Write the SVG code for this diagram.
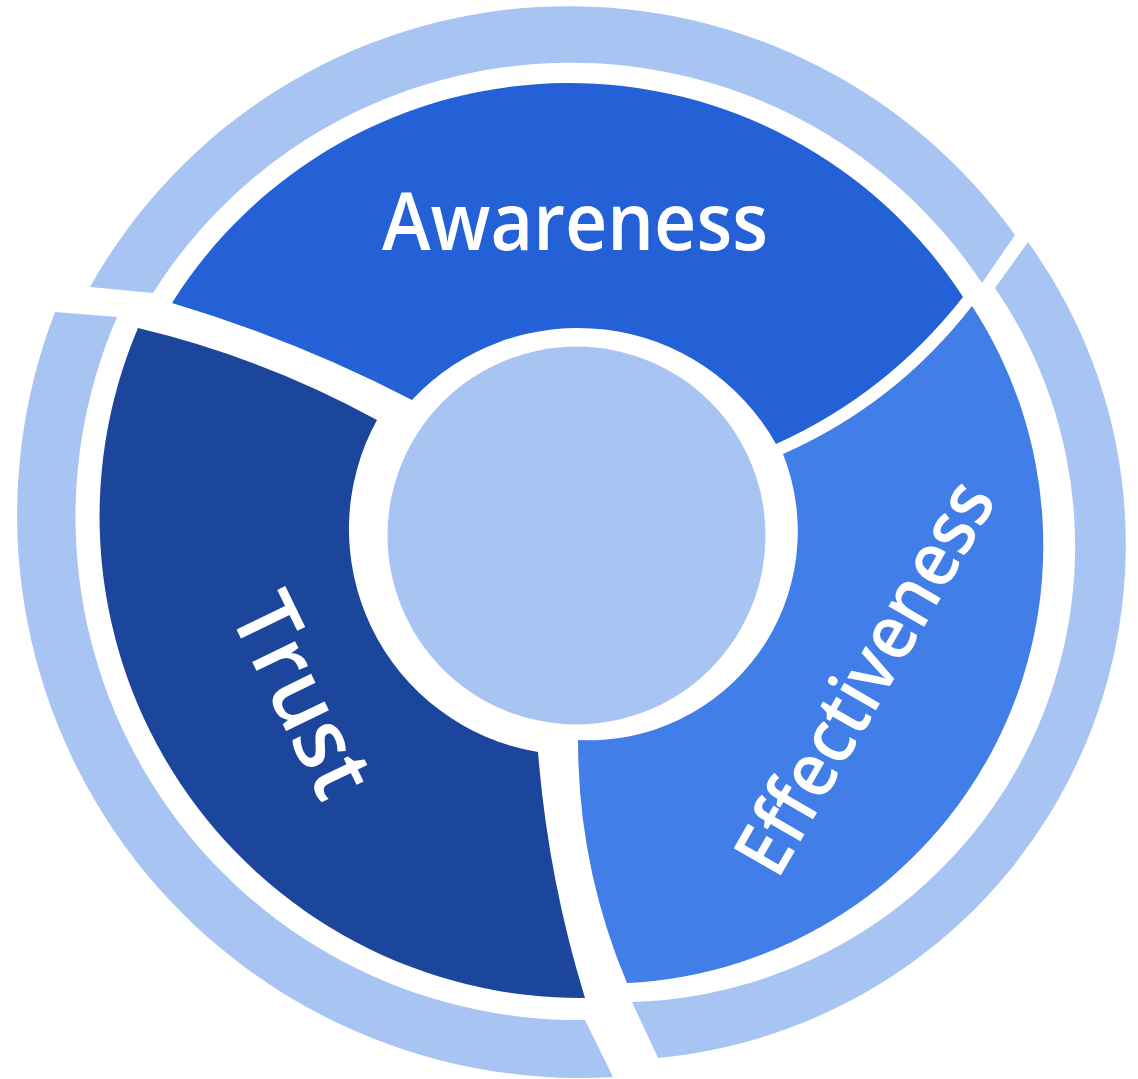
<svg xmlns="http://www.w3.org/2000/svg" width="1138" height="1079" viewBox="0 0 1138 1079">
  <style>
    .halo { fill: #a8c4f2; }
    .awareness { fill: #2561d6; }
    .trust { fill: #1c469b; }
    .effectiveness { fill: #417ee8; }
    .hub { fill: #a8c4f2; }
    .label { fill: #ffffff; font-family: "Open Sans", "Noto Sans", "Liberation Sans", sans-serif; font-weight: 600; }
  </style>

  <rect x="0" y="0" width="1138" height="1079" fill="#ffffff"/>

  <!-- outer pale ring, split into three arcs -->
  <g id="outer-ring">
    <path id="ring-top" class="halo" d="M 90 287 A 549 549 0 0 1 1015 235 L 982 283 A 494 494 0 0 0 153 293 Z"/>
    <path id="ring-left" class="halo" d="M 55 312 A 563 563 0 0 0 613 1077 L 585 1020 A 503 503 0 0 1 117 317 Z"/>
    <path id="ring-right" class="halo" d="M 1028 242 A 516 516 0 0 1 658 1058 L 632 1002 A 456 456 0 0 0 995 288 Z"/>
  </g>

  <!-- top segment -->
  <g id="awareness">
    <path class="awareness" d="M 172 303 A 469 469 0 0 1 963 297 Q 887 394 776 444 A 227 227 0 0 0 412 400 Q 296 340 172 303 Z"/>
    <text class="label" x="575" y="250" font-size="80" text-anchor="middle" textLength="386" lengthAdjust="spacingAndGlyphs">Awareness</text>
  </g>

  <!-- left segment -->
  <g id="trust">
    <path class="trust" d="M 138 328 Q 264 358 377 420 A 226 226 0 0 0 538 752 Q 548 878 585 998 A 481.5 481.5 0 0 1 138 328 Z"/>
    <text class="label" transform="translate(303 695) rotate(64)" x="0" y="31" font-size="88" text-anchor="middle" textLength="214" lengthAdjust="spacingAndGlyphs">Trust</text>
  </g>

  <!-- right segment -->
  <g id="effectiveness">
    <path class="effectiveness" d="M 972 306 A 438 438 0 0 1 627 983 Q 578 867 578 740 A 209 209 0 0 0 783 454 Q 896 404 972 306 Z"/>
    <text class="label" transform="translate(864 677) rotate(-60)" x="0" y="27" font-size="76" text-anchor="middle" textLength="440" lengthAdjust="spacingAndGlyphs">Effectiveness</text>
  </g>

  <!-- central disc -->
  <g id="hub">
    <circle class="hub" cx="576.5" cy="535.5" r="189"/>
  </g>
</svg>
